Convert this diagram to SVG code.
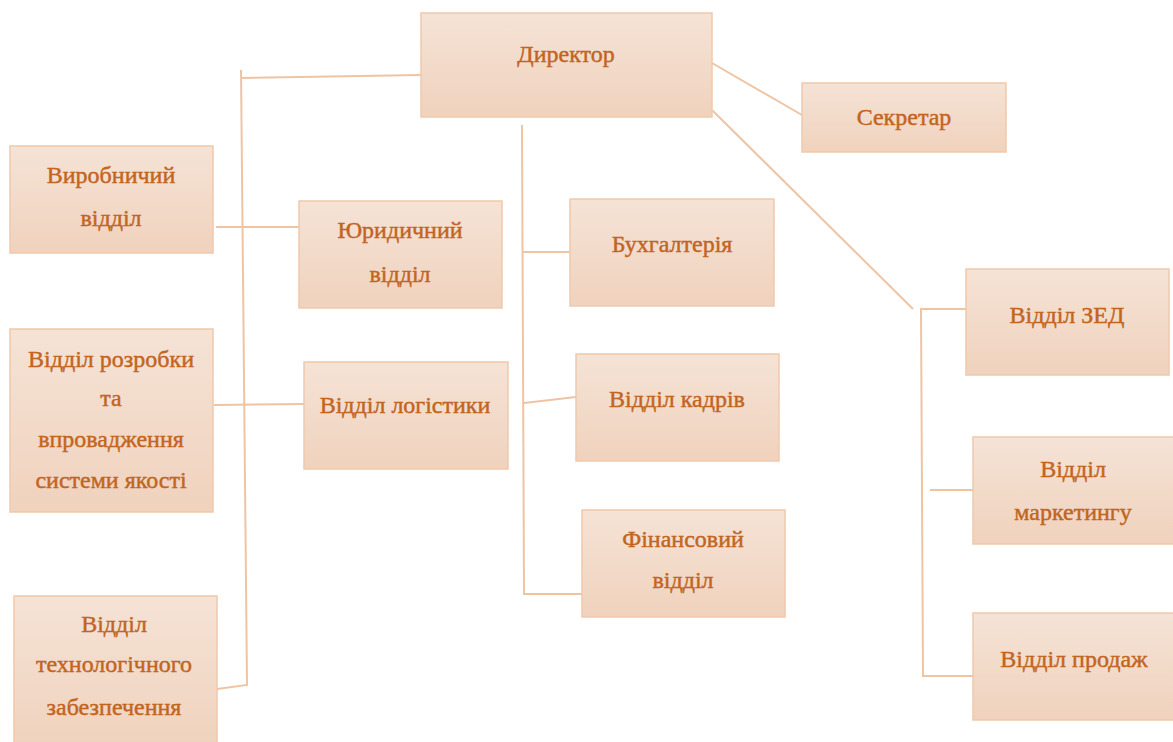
<svg xmlns="http://www.w3.org/2000/svg" width="1173" height="742" viewBox="0 0 1173 742">
<style>
.box{fill:url(#g);stroke:#f0c9ab;stroke-width:1.5}
.t{font-family:"Liberation Serif","DejaVu Serif",serif;font-size:24px;fill:#c2651f;stroke:#c2651f;stroke-width:0.45;text-anchor:middle}
.c{stroke:#efc4a3;stroke-width:2;fill:none}
</style>
<defs>
<linearGradient id="g" x1="0" y1="0" x2="0" y2="1">
<stop offset="0" stop-color="#f5e3d6"/>
<stop offset="1" stop-color="#f0d2bd"/>
</linearGradient>
</defs>
<rect width="1173" height="742" fill="#ffffff"/>
<g id="connectors">
<polyline class="c" points="421,75 241,78"/>
<polyline class="c" points="241,70 247,685 217,689"/>
<line class="c" x1="216" y1="227" x2="300" y2="227"/>
<line class="c" x1="214" y1="405" x2="305" y2="404"/>
<polyline class="c" points="522,125 524,594 582,594"/>
<line class="c" x1="522" y1="252" x2="570" y2="252"/>
<line class="c" x1="524" y1="403" x2="576" y2="397"/>
<line class="c" x1="712" y1="63" x2="802" y2="115"/>
<line class="c" x1="712" y1="110" x2="913" y2="309"/>
<polyline class="c" points="966,309 921,309 923,676 973,676"/>
<line class="c" x1="930" y1="490" x2="973" y2="490"/>
</g>
<g id="director"><rect class="box" x="421" y="13" width="291" height="104"/><text class="t" x="566" y="62">Директор</text></g>
<g id="secretary"><rect class="box" x="802" y="83" width="204" height="69"/><text class="t" x="904" y="125">Секретар</text></g>
<g id="vyrobnychyi"><rect class="box" x="10" y="146" width="203" height="107"/><text class="t" x="111" y="183">Виробничий</text><text class="t" x="111" y="226">відділ</text></g>
<g id="yurydychnyi"><rect class="box" x="299" y="201" width="203" height="107"/><text class="t" x="400" y="238">Юридичний</text><text class="t" x="400" y="282">відділ</text></g>
<g id="rozrobky"><rect class="box" x="10" y="329" width="203" height="183"/><text class="t" x="111" y="367">Відділ розробки</text><text class="t" x="111" y="406">та</text><text class="t" x="111" y="447">впровадження</text><text class="t" x="111" y="488">системи якості</text></g>
<g id="lohistyky"><rect class="box" x="304" y="362" width="204" height="107"/><text class="t" x="405" y="413">Відділ логістики</text></g>
<g id="tekhnolohichnoho"><rect class="box" x="14" y="596" width="203" height="152"/><text class="t" x="114" y="632">Відділ</text><text class="t" x="114" y="672">технологічного</text><text class="t" x="114" y="715">забезпечення</text></g>
<g id="bukhhalteriia"><rect class="box" x="570" y="199" width="204" height="107"/><text class="t" x="672" y="252">Бухгалтерія</text></g>
<g id="kadriv"><rect class="box" x="576" y="354" width="203" height="107"/><text class="t" x="677" y="407">Відділ кадрів</text></g>
<g id="finansovyi"><rect class="box" x="582" y="510" width="203" height="107"/><text class="t" x="683" y="547">Фінансовий</text><text class="t" x="683" y="588">відділ</text></g>
<g id="zed"><rect class="box" x="966" y="269" width="203" height="106"/><text class="t" x="1067" y="323">Відділ ЗЕД</text></g>
<g id="marketynhu"><rect class="box" x="973" y="437" width="204" height="107"/><text class="t" x="1073" y="477">Відділ</text><text class="t" x="1073" y="520">маркетингу</text></g>
<g id="prodazh"><rect class="box" x="973" y="613" width="204" height="107"/><text class="t" x="1074" y="667">Відділ продаж</text></g>
</svg>
